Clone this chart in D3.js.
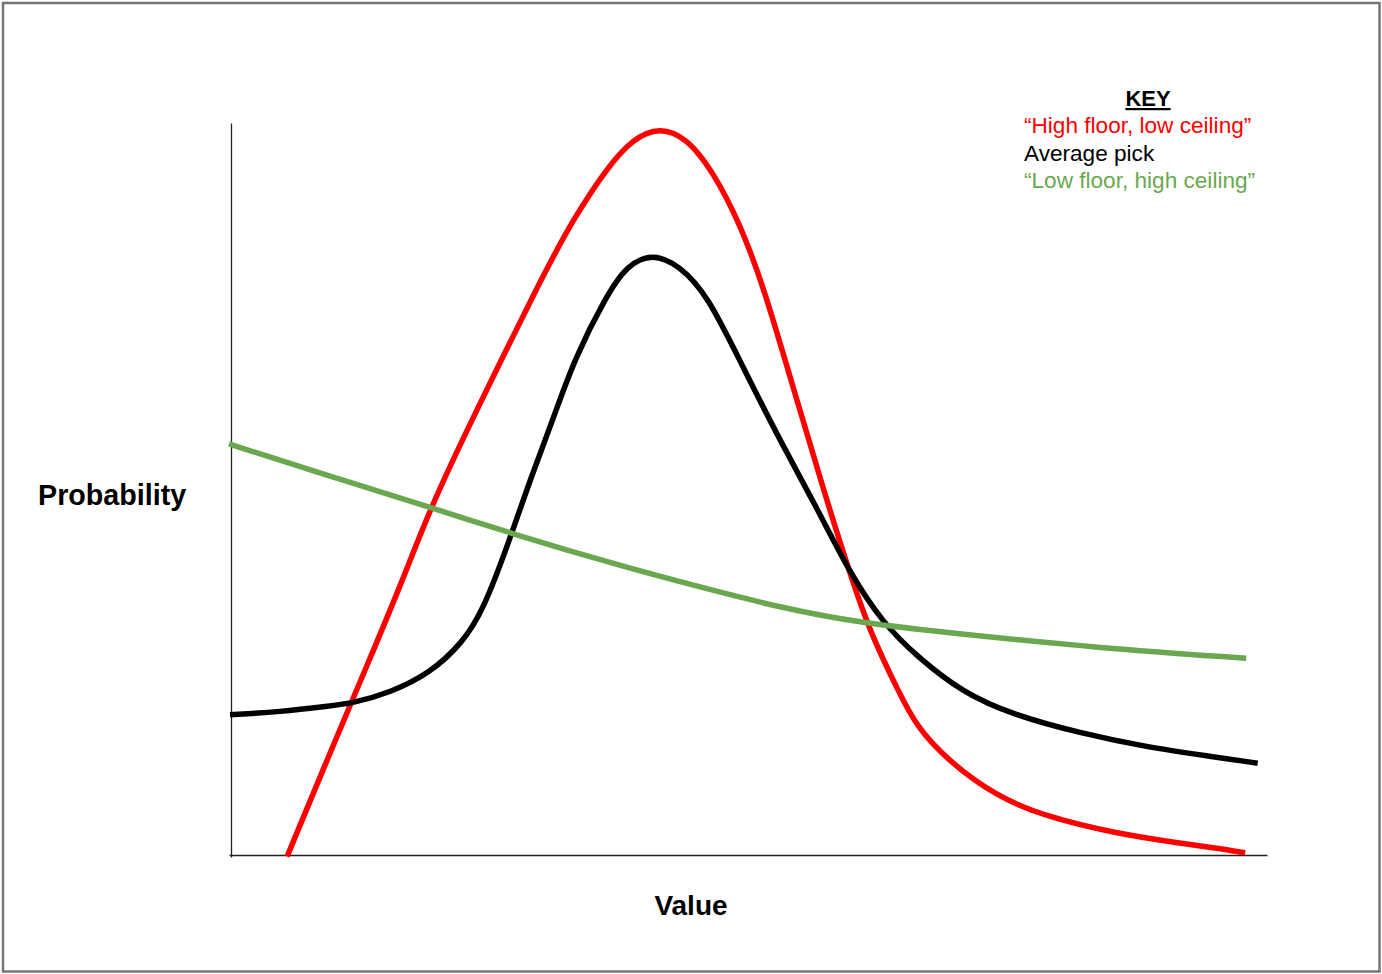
<!DOCTYPE html>
<html>
<head>
<meta charset="utf-8">
<script src="https://cdn.jsdelivr.net/npm/d3@7"></script>
<style>
  body { margin: 0; background: #fff; }
  svg { display: block; font-family: "Liberation Sans", Arial, sans-serif; }
</style>
</head>
<body>
<div id="chart"></div>
<script>
// curves, value 0-100 vs probability 0-100
highFloorX = [5.6, 10.4, 13.6, 16.8, 19.4, 23.4, 30.0, 33.1, 36.4, 38.9, 41.5, 44.1, 46.6, 49.2, 51.5, 54.7, 57.2, 59.8, 61.8, 64.6, 66.2, 69.2, 74.0, 78.8, 85.2, 91.6, 94.8, 97.9];
highFloorY = [-0.2, 16.2, 26.8, 37.7, 47.3, 59.3, 78.3, 86.5, 93.6, 97.6, 99.2, 97.7, 93.2, 86.1, 77.5, 62.0, 50.1, 38.4, 30.2, 22.0, 17.6, 12.9, 7.9, 5.2, 3.0, 1.6, 1.0, 0.3];

averageX = [0.1, 4.9, 9.7, 11.9, 15.5, 19.4, 22.5, 24.5, 26.8, 29.0, 31.2, 33.3, 36.4, 38.3, 40.8, 43.4, 46.1, 49.5, 53.4, 56.6, 59.8, 63.0, 66.3, 70.7, 75.5, 82.0, 88.4, 94.8, 99.1];
averageY = [19.1, 19.5, 20.3, 20.7, 22.1, 24.8, 28.9, 33.4, 42.0, 51.1, 59.3, 67.7, 76.3, 80.3, 82.0, 80.3, 76.3, 66.5, 55.6, 47.4, 38.4, 31.6, 27.0, 22.1, 19.1, 16.6, 14.7, 13.4, 12.5];

lowFloorX = [0, 9.7, 19.6, 27.6, 38.2, 45.4, 53.1, 60.8, 70.4, 83.9, 98.0];
lowFloorY = [56.0, 51.6, 47.3, 43.6, 39.2, 36.5, 33.7, 31.6, 30.1, 28.2, 26.8];

keyLabels = ["\u201cHigh floor, low ceiling\u201d", "Average pick", "\u201cLow floor, high ceiling\u201d"];

const width = 1382;
const height = 974;

const series = [
    { name: keyLabels[0], color: "#ff0000", xs: highFloorX, ys: highFloorY },
    { name: keyLabels[1], color: "#000000", xs: averageX, ys: averageY },
    { name: keyLabels[2], color: "#6aa84f", xs: lowFloorX, ys: lowFloorY },
];

var svg = d3.select("#chart")
    .append("svg")
    .attr("width", width)
    .attr("height", height);

// frame round the picture
svg.append("rect")
    .attr("x", 3).attr("y", 3)
    .attr("width", width - 5.5).attr("height", height - 5.5)
    .attr("fill", "none")
    .attr("stroke", "#767676")
    .attr("stroke-width", 2.5);

var x = d3.scaleLinear().domain([0, 100]).range([229, 1267]);
var y = d3.scaleLinear().domain([0, 100]).range([855, 121]);

svg.append("g")
    .attr("transform", `translate(0,${y(0)})`)
    .call(d3.axisBottom(x).tickValues([]).tickSizeOuter(0))
    .call(g => g.select(".domain").attr("stroke", "#222").attr("stroke-width", 1.3));

svg.append("g")
    .attr("transform", `translate(231,2)`)
    .call(d3.axisLeft(y).tickValues([]).tickSizeOuter(0))
    .call(g => g.select(".domain").attr("stroke", "#222").attr("stroke-width", 1.3));

// basis smooths out the hand-read wobble
var line = d3.line()
    .x(d => x(d[0]))
    .y(d => y(d[1]))
    .curve(d3.curveBasis);

svg.selectAll(".curve")
    .data(series)
    .join("path")
    .attr("class", "curve")
    .attr("d", s => line(s.xs.map((v, i) => [v, s.ys[i]])))
    .attr("fill", "none")
    .attr("stroke", s => s.color)
    .attr("stroke-width", 5.5);

// axis titles
svg.append("text")
    .attr("x", 38).attr("y", 505)
    .attr("font-size", 28.7).attr("font-weight", "bold")
    .text("Probability");

svg.append("text")
    .attr("x", 691).attr("y", 915)
    .attr("text-anchor", "middle")
    .attr("font-size", 28).attr("font-weight", "bold")
    .text("Value");

// key
var key = svg.append("g");
key.append("text")
    .attr("x", 1148).attr("y", 106)
    .attr("text-anchor", "middle")
    .attr("font-size", 22).attr("font-weight", "bold")
    .attr("text-decoration", "underline")
    .text("KEY");

key.selectAll(".keyItem")
    .data(series)
    .join("text")
    .attr("class", "keyItem")
    .attr("x", 1024)
    .attr("y", (d, i) => 133 + i * 27.5)
    .attr("font-size", 22.6)
    .attr("fill", d => d.color)
    .text(d => d.name);
</script>
</body>
</html>
